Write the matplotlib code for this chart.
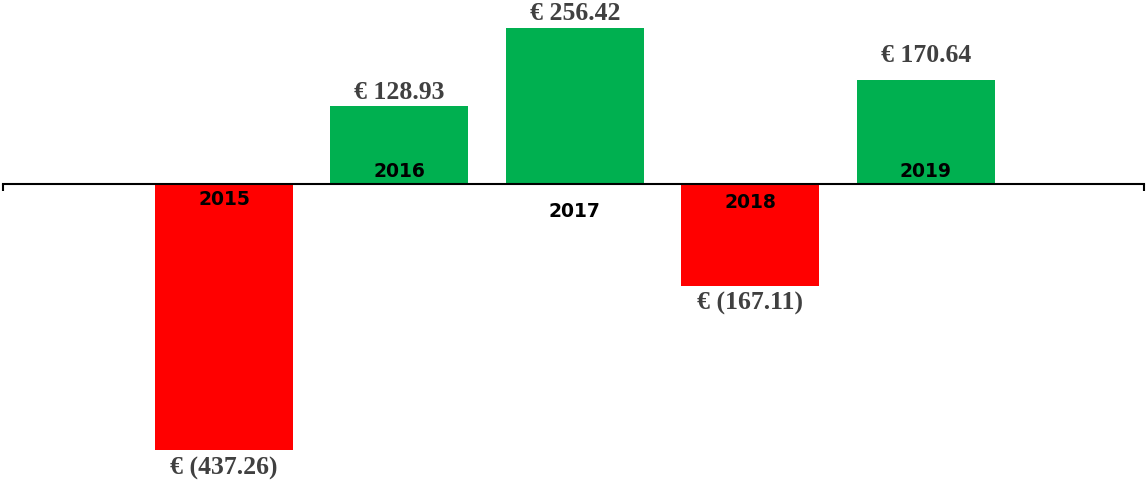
import matplotlib.pyplot as plt

years = ["2015", "2016", "2017", "2018", "2019"]
values = [-437.26, 128.93, 256.42, -167.11, 170.64]
value_labels = ["€ (437.26)", "€ 128.93", "€ 256.42", "€ (167.11)", "€ 170.64"]

# label placement (pixels from axis line / bar end), as Excel put them
year_offsets = [-16, 12, -28, -19, 12]
value_offsets = [19, 13, 15, 18, 25]

fig = plt.figure(figsize=(11.47, 4.86), dpi=100)
ax = fig.add_axes([0, 0, 1, 1])

x = range(len(years))
colors = ["#00B050" if v > 0 else "#FF0000" for v in values]
ax.bar(x, values, width=0.786, color=colors, zorder=2)

ax.set_xlim(-1.277, 5.262)
ax.set_ylim(-496.7, 302.6)

for s in ["top", "left", "right"]:
    ax.spines[s].set_visible(False)
ax.spines["bottom"].set_position(("data", 0))
ax.spines["bottom"].set_bounds(-1.26, 5.245)
ax.spines["bottom"].set_linewidth(1.5)
ax.spines["bottom"].set_zorder(3)
ax.set_yticks([])
ax.set_xticks([-1.26, 5.245])
ax.set_xticklabels([])
ax.tick_params(axis="x", direction="out", length=5, width=1.5)

for i, (yr, v, lab) in enumerate(zip(years, values, value_labels)):
    ax.annotate(yr, (i, 0), xytext=(0, year_offsets[i]), textcoords="offset pixels",
                ha="center", va="center", fontsize=13.5, fontweight="bold",
                color="black", zorder=4)
    sign = 1 if v > 0 else -1
    ax.annotate(lab, (i, v), xytext=(0, sign * value_offsets[i]), textcoords="offset pixels",
                ha="center", va="center", fontsize=18.5, fontweight="bold",
                family="Liberation Serif", color="#404040", zorder=4)

plt.savefig("out.png", dpi=100)
